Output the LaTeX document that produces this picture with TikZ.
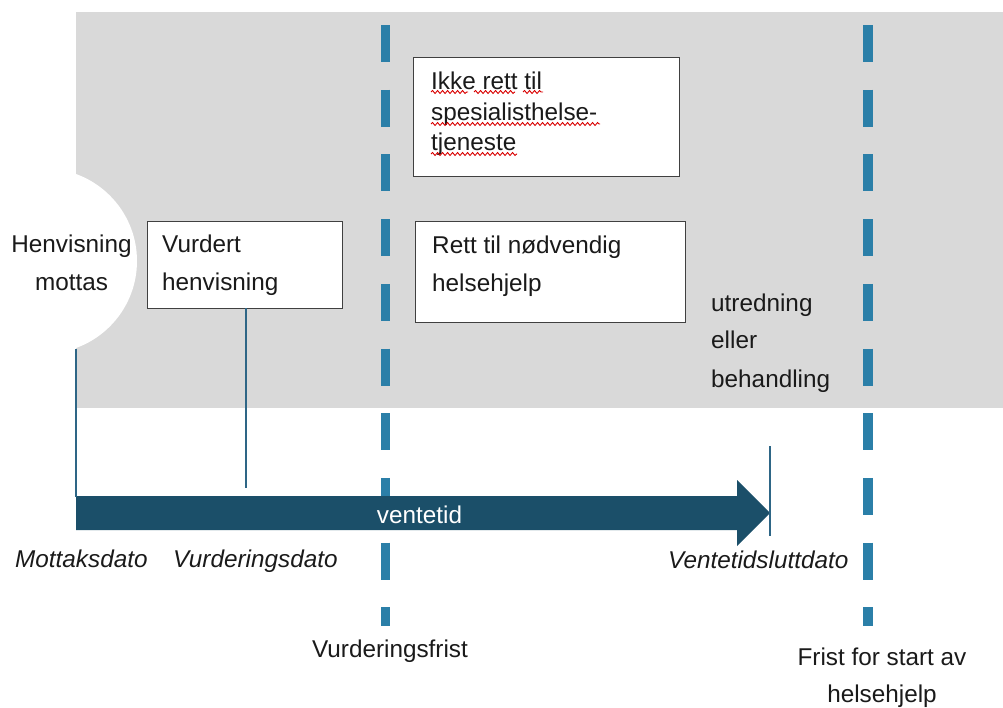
\documentclass[tikz,border=0pt]{standalone}
\usepackage{fontspec}
\setmainfont{Liberation Sans}
\usetikzlibrary{decorations.pathmorphing}
\definecolor{bggray}{HTML}{D9D9D9}
\definecolor{dashblue}{HTML}{2B7FA8}
\definecolor{arrowteal}{HTML}{1B4F69}
\definecolor{thinline}{HTML}{2E6686}
\definecolor{boxline}{HTML}{404040}
\definecolor{txt}{HTML}{1A1A1A}
\begin{document}
\begin{tikzpicture}[x=1pt,y=-1pt,
  lbl/.style={anchor=base west, inner sep=0pt, font=\fontsize{24.3}{29}\selectfont, text=txt},
  lblc/.style={anchor=base, inner sep=0pt, font=\fontsize{24.3}{29}\selectfont, text=txt},
  itl/.style={anchor=base west, inner sep=0pt, font=\fontsize{24.3}{29}\selectfont\itshape, text=txt},
  boxr/.style={draw=boxline, line width=1.2pt, fill=white, inner sep=0pt, anchor=north west},
  frist/.style={draw=dashblue, line width=9.5pt, dash pattern=on 37pt off 27.7pt},
  thin/.style={draw=thinline, line width=1.2pt},
  squig/.style={draw=red!85!black, line width=0.9pt, decorate, decoration={snake, amplitude=1.5pt, segment length=5pt}}]

\useasboundingbox (0,0) rectangle (1003,707);
% background
\fill[bggray] (76,12) rectangle (1003,408);
\fill[white] (44.5,261) circle[radius=92.5];

% deadlines (dashed)
\coordinate (vftop) at (385.5,25);
\coordinate (vfbot) at (385.5,626);
\coordinate (fstop) at (868,25);
\coordinate (fsbot) at (868,626);
\draw[frist] (vftop) -- (vfbot);
\draw[frist] (fstop) -- (fsbot);

% boxes
\node[boxr, minimum width=195pt, minimum height=87pt] (vurdbox) at (147,221) {};
\node[boxr, minimum width=266pt, minimum height=119pt] (ikkebox) at (413,57) {};
\node[boxr, minimum width=270pt, minimum height=101pt] (rettbox) at (415,221) {};

% block arrow
\coordinate (astart) at (76,513);
\coordinate (atip) at (770,513);
\fill[arrowteal] (76,496) -- (737,496) -- (737,480) -- (atip) -- (737,546) -- (737,530) -- (76,530) -- cycle;

% thin markers
\coordinate (mtop) at (76,349);
\coordinate (mbot) at (76,497);
\coordinate (vtop) at (246,308);
\coordinate (vbot) at (246,488);
\coordinate (etop) at (770,446);
\coordinate (ebot) at (770,536);
\draw[thin] (mtop) -- (mbot);
\draw[thin] (vtop) -- (vbot);
\draw[thin] (etop) -- (ebot);

% texts
\node[lblc] (h1) at (71.5,252) {Henvisning};
\node[lblc] (h2) at (71.5,290) {mottas};
\node[lbl] (v1) at (162,252) {Vurdert};
\node[lbl] (v2) at (162,290) {henvisning};
\node[lbl] (i1) at (431,89) {Ikke rett til};
\node[lbl] (i2) at (431,120) {spesialisthelse-};
\node[lbl] (i3) at (431,150) {tjeneste};
\node[lbl] (r1) at (432,253) {Rett til nødvendig};
\node[lbl] (r2) at (432,291) {helsehjelp};
\node[lbl] (u1) at (711,311) {utredning};
\node[lbl] (u2) at (711,348) {eller};
\node[lbl] (u3) at (711,387) {behandling};
\node[lblc, text=white] (vt) at (419.5,523) {ventetid};
\node[itl] (md) at (15,567) {Mottaksdato};
\node[itl] (vd) at (173,567) {Vurderingsdato};
\node[itl] (vtd) at (668,568) {Ventetidsluttdato};
\node[lblc] (vfr) at (390,657) {Vurderingsfrist};
\node[lblc] (fs1) at (882,665) {Frist for start av};
\node[lblc] (fs2) at (882,702) {helsehjelp};

% spell-check squiggles
\draw[squig] (431,92) -- (468,92);
\draw[squig] (474,92) -- (515,92);
\draw[squig] (523,92) -- (543,92);
\draw[squig] (431,124) -- (600,124);
\draw[squig] (431,154) -- (517,154);
\end{tikzpicture}
\end{document}
